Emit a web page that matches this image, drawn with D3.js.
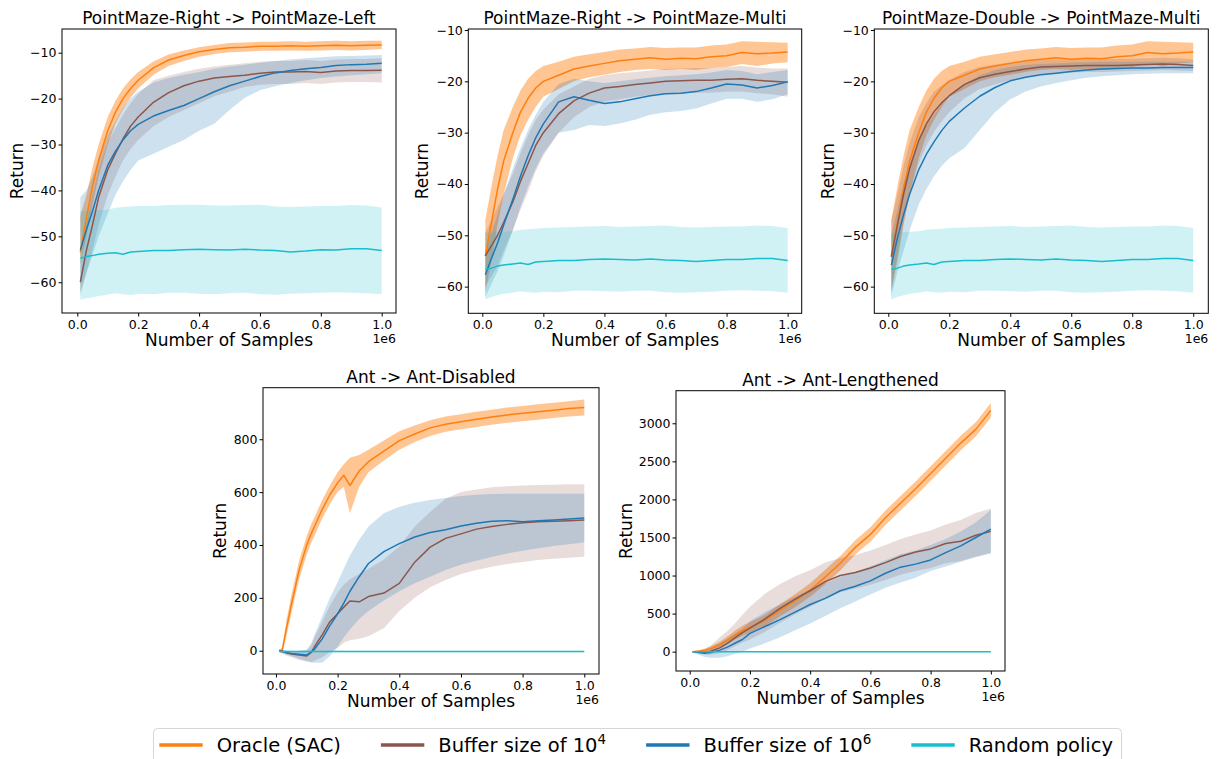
<!DOCTYPE html>
<html>
<head>
<meta charset="utf-8">
<script src="https://cdn.jsdelivr.net/npm/d3@7"></script>
<style>
  body { margin: 0; background: #fff; }
  text { font-family: "DejaVu Sans", sans-serif; fill: #000; }
</style>
</head>
<body>
<div id="chart"></div>
<script>
// sample positions (fraction of 1e6 samples)
const xSteps = [0.01, 0.03, 0.05, 0.07, 0.1, 0.125, 0.15, 0.175, 0.2, 0.25, 0.3, 0.35, 0.4, 0.45, 0.5, 0.55, 0.6, 0.65, 0.7, 0.75, 0.8, 0.85, 0.9, 0.95, 1.0];
const xStepsDisabled = [0.01, 0.02, 0.035, 0.05, 0.075, 0.1, 0.115, 0.125, 0.15, 0.175, 0.2, 0.22, 0.24, 0.27, 0.3, 0.35, 0.4, 0.45, 0.5, 0.55, 0.6, 0.65, 0.7, 0.75, 0.8, 0.85, 0.9, 0.95, 1.0];

const titles = ["PointMaze-Right -> PointMaze-Left", "PointMaze-Right -> PointMaze-Multi", "PointMaze-Double -> PointMaze-Multi", "Ant -> Ant-Disabled", "Ant -> Ant-Lengthened"];
const legendNames = ["Oracle (SAC)", "Buffer size of 10", "Buffer size of 10", "Random policy"];
const legendSups = ["", "4", "6", ""];
const colors = ["#ff7f0e", "#8c564b", "#1f77b4", "#17becf"];
const bandAlpha = [0.45, 0.2, 0.22, 0.2];

const xTicks = [0, 0.2, 0.4, 0.6, 0.8, 1.0];
const yTicksMaze = [-60, -50, -40, -30, -20, -10];
const yTicksDisabled = [0, 200, 400, 600, 800];
const yTicksLengthened = [0, 500, 1000, 1500, 2000, 2500, 3000];

// PointMaze-Right -> PointMaze-Left
const rlOracle = [-53.5, -46, -39, -33.5, -27, -23, -20, -17.8, -16, -13.3, -11.6, -10.6, -9.8, -9.3, -8.9, -8.8, -8.6, -8.6, -8.5, -8.6, -8.5, -8.4, -8.5, -8.4, -8.3];
const rlOracleLo = [-56, -50, -43, -37, -30, -25.5, -22.3, -19.8, -17.8, -14.8, -12.9, -11.8, -10.9, -10.3, -9.9, -9.8, -9.6, -9.6, -9.5, -9.6, -9.5, -9.4, -9.5, -9.4, -9.2];
const rlOracleHi = [-45.5, -41, -35, -30, -24, -20.5, -17.8, -15.8, -14.2, -11.9, -10.4, -9.5, -8.8, -8.3, -7.9, -7.8, -7.6, -7.6, -7.5, -7.6, -7.5, -7.4, -7.5, -7.4, -7.4];
const rlBuf4 = [-60, -53, -47.5, -41.5, -35.5, -32, -28.8, -26, -24, -20.8, -18.7, -17.2, -16.2, -15.5, -15.2, -14.9, -14.5, -14.2, -14.2, -14.1, -14.3, -14, -13.9, -13.9, -13.8];
const rlBuf4Lo = [-63, -58, -53, -47.5, -41, -37, -33.5, -31, -29, -26, -24, -22.5, -21, -19.5, -18.5, -17.5, -17, -16.8, -16.8, -16.6, -16.8, -16.5, -16.4, -16.4, -16.5];
const rlBuf4Hi = [-56, -47, -41, -35.5, -29.5, -26.5, -23.5, -21, -19, -16, -15, -14.2, -13.5, -13, -12.6, -12.3, -12, -11.8, -11.8, -11.6, -11.8, -11.5, -11.4, -11.4, -11.2];
const rlBuf6 = [-53, -48.5, -44.5, -40, -34.5, -31.5, -29, -27, -25.6, -23.8, -22.6, -21.5, -20, -18.5, -17.2, -16.2, -15.2, -14.4, -13.9, -13.5, -13.2, -12.8, -12.6, -12.5, -12.3];
const rlBuf6Lo = [-62, -58, -54, -50, -45, -41, -38, -35.5, -33.5, -32, -30.5, -29, -27, -25.5, -22.5, -19.8, -18.2, -17.3, -16.6, -16, -15.5, -15.2, -14.9, -14.7, -14.5];
const rlBuf6Hi = [-41.5, -40, -37, -33, -28, -25, -22, -20, -18.5, -16.5, -15.5, -14.8, -14.2, -13.5, -13, -12.6, -12.2, -11.8, -11.5, -11.2, -11, -10.8, -10.7, -10.6, -10.5];
const rlRandom = [-54.8, -54.4, -54.2, -53.9, -53.7, -53.6, -53.9, -53.4, -53.3, -53.1, -53.1, -52.9, -52.8, -52.9, -53, -52.8, -53, -53.1, -53.4, -53.2, -52.9, -53, -52.7, -52.7, -53.1];
const rlRandomLo = [-63.8, -63.5, -63.3, -63, -62.7, -62.4, -62.6, -62.8, -62.5, -62.6, -62.3, -62.3, -62.5, -62.6, -62.4, -62.3, -62.6, -62.7, -62.5, -62.4, -62.3, -62.2, -62.3, -62.4, -62.6];
const rlRandomHi = [-44.5, -44.4, -44.4, -44.3, -44.2, -43.8, -43.6, -43.5, -43.4, -43.4, -43.2, -43.1, -43.1, -43.3, -43.3, -43.2, -43.1, -43.5, -43.6, -43.5, -43.4, -43.4, -43.2, -43.3, -43.7];

// PointMaze-Right -> PointMaze-Multi (oracle and random shared with Double -> Multi)
const multiOracle = [-54, -47.5, -41, -35.5, -30, -26, -23.3, -21.3, -20, -18.8, -17.6, -17, -16.5, -16, -15.7, -15.4, -15.7, -15.5, -15.6, -15.2, -15, -14.4, -14.6, -14.5, -14.3];
const multiOracleLo = [-61, -55, -48, -42, -35, -30.5, -27.5, -25, -23, -21.5, -20, -19.2, -18.7, -18.2, -17.8, -17.6, -17.8, -17.6, -17.8, -17.4, -17.2, -16.6, -17, -16.5, -16.3];
const multiOracleHi = [-47, -40.5, -34.5, -29.5, -25, -21.8, -19.5, -18, -17, -16.2, -15.2, -14.7, -14.3, -13.8, -13.6, -13.3, -13.5, -13.4, -13.4, -13, -12.8, -12.2, -12.3, -12.4, -12.5];
const multiRandom = [-56.6, -56.4, -56, -55.8, -55.6, -55.4, -55.7, -55.2, -55.1, -54.9, -54.9, -54.7, -54.6, -54.7, -54.8, -54.6, -54.8, -54.9, -55.1, -54.9, -54.7, -54.7, -54.5, -54.5, -54.9];
const multiRandomLo = [-62.5, -62, -61.7, -61.4, -61.2, -60.9, -61.1, -61.2, -61, -61.1, -60.8, -60.8, -60.9, -61, -60.8, -60.8, -61.1, -61.2, -61.1, -61, -60.8, -60.7, -60.8, -60.9, -61.2];
const multiRandomHi = [-49.5, -49.4, -49.4, -49.3, -49.2, -48.9, -48.8, -48.7, -48.6, -48.5, -48.4, -48.3, -48.2, -48.4, -48.3, -48.2, -48.1, -48.4, -48.5, -48.4, -48.3, -48.3, -48.1, -48.2, -48.6];
const rmBuf4 = [-54, -52, -50, -47.5, -43.5, -39.5, -36, -32.5, -30, -26.3, -23.8, -22.3, -21.3, -21, -20.6, -20.3, -20, -19.9, -19.8, -19.8, -19.6, -19.5, -19.8, -20, -20.2];
const rmBuf4Lo = [-60, -58, -56, -53, -49, -45, -41.5, -37.5, -34.5, -30, -27, -25, -24, -23.5, -23, -22.7, -22.4, -22.3, -22.2, -22.2, -22, -22, -22.3, -22.5, -23];
const rmBuf4Hi = [-49.5, -47, -44.5, -42, -38, -34, -30.5, -27.5, -25.5, -22.5, -21, -19.5, -18.8, -18.4, -18.2, -17.9, -17.6, -17.5, -17.4, -17.4, -17.2, -17, -17.3, -17.5, -17.5];
const rmBuf6 = [-57.7, -54.5, -51.5, -48, -43, -38.5, -34.5, -31, -28.3, -24, -23, -23.7, -24.3, -24, -23.4, -22.8, -22.4, -22.3, -22, -21.3, -20.5, -20.7, -21.3, -20.8, -20.1];
const rmBuf6Lo = [-62, -59.5, -57, -54, -49, -44.5, -40.5, -37, -34, -30, -29.5, -28.5, -28.7, -28.2, -27.5, -26.5, -26, -25.8, -25.3, -24.3, -23.4, -23.4, -24, -23.5, -22.5];
const rmBuf6Hi = [-53, -49.5, -46, -42, -37, -33, -29.5, -26.5, -24, -20.5, -19.5, -20, -20.3, -20, -19.6, -19.3, -19, -18.8, -18.6, -18.3, -17.8, -18, -18.6, -18.2, -17.8];

// PointMaze-Double -> PointMaze-Multi
const dmBuf4 = [-54.2, -48, -42, -37, -31.5, -28.3, -25.9, -24.2, -22.8, -20.6, -19.3, -18.6, -18.1, -17.6, -17.2, -17.1, -17, -16.9, -16.9, -16.9, -16.8, -16.7, -16.6, -16.7, -16.9];
const dmBuf4Lo = [-60.5, -54, -47.5, -42, -36, -32.5, -29.8, -27.8, -26, -23.3, -21.5, -20.6, -19.8, -19.2, -18.7, -18.5, -18.3, -18.2, -18.2, -18.1, -18, -17.9, -17.8, -17.9, -18];
const dmBuf4Hi = [-47, -42, -36.5, -32, -27, -24.2, -22, -20.8, -19.7, -18.2, -17.2, -16.7, -16.3, -16, -15.7, -15.7, -15.7, -15.6, -15.6, -15.6, -15.6, -15.5, -15.4, -15.5, -15.7];
const dmBuf6 = [-55.8, -50.5, -46, -42, -37.2, -34.2, -31.8, -29.6, -27.8, -25.2, -22.9, -21.2, -19.9, -19.2, -18.7, -18.4, -18.1, -17.8, -17.6, -17.5, -17.4, -17.4, -17.3, -17.3, -17.3];
const dmBuf6Lo = [-62, -57, -53, -49, -44, -41, -38.5, -36.5, -35, -33, -29.5, -26, -23.5, -22, -21, -20.3, -19.8, -19.3, -19, -18.8, -18.6, -18.5, -18.4, -18.4, -18.4];
const dmBuf6Hi = [-50, -45, -40, -36, -31.5, -28.7, -26.5, -24.6, -23, -20.5, -18.8, -17.8, -17.2, -16.8, -16.6, -16.5, -16.4, -16.3, -16.2, -16.2, -16.2, -16.2, -16.2, -16.2, -16.2];

// Ant -> Ant-Disabled (on xStepsDisabled)
const adOracle = [0, 0, 90, 175, 305, 400, 445, 470, 535, 590, 635, 664, 625, 680, 715, 755, 795, 820, 843, 857, 866, 876, 884, 892, 898, 904, 910, 916, 920];
const adOracleLo = [-5, -10, 60, 140, 270, 365, 410, 435, 500, 555, 600, 620, 520, 620, 675, 720, 760, 790, 812, 828, 838, 846, 855, 862, 868, 874, 880, 886, 890];
const adOracleHi = [5, 10, 120, 210, 340, 435, 480, 505, 570, 625, 675, 705, 730, 740, 760, 795, 830, 852, 872, 886, 895, 904, 912, 920, 926, 932, 938, 944, 950];
const adBuf4 = [0, -2, -8, -12, -16, -20, -5, 15, 60, 110, 140, 165, 188, 185, 205, 218, 255, 335, 392, 425, 442, 460, 470, 478, 484, 488, 490, 492, 495];
const adBuf4Lo = [-5, -10, -18, -25, -35, -40, -42, -38, -25, -5, 10, 30, 40, 45, 55, 85, 150, 200, 240, 268, 290, 305, 318, 328, 336, 343, 348, 352, 356];
const adBuf4Hi = [5, 4, 0, -2, -5, 0, 20, 50, 110, 170, 220, 250, 270, 290, 310, 345, 395, 470, 525, 575, 600, 610, 618, 622, 625, 627, 628, 630, 630];
const adBuf6 = [0, -2, -8, -10, -13, -16, -5, 5, 45, 95, 140, 180, 225, 280, 330, 375, 405, 430, 447, 458, 472, 482, 490, 492, 488, 492, 495, 498, 502];
const adBuf6Lo = [-5, -8, -15, -20, -30, -40, -45, -45, -45, -20, 15, 50, 80, 120, 150, 190, 225, 255, 280, 305, 325, 340, 355, 368, 378, 388, 396, 403, 410];
const adBuf6Hi = [5, 4, 0, -2, 0, 5, 30, 60, 130, 200, 260, 310, 360, 420, 470, 520, 545, 560, 570, 578, 585, 590, 593, 594, 594, 594, 594, 594, 594];
const adRandom = [-2, -3, -3, -3, -3, -3, -3, -3, -3, -3, -3, -3, -3, -3, -3, -3, -3, -3, -3, -3, -3, -3, -3, -3, -3, -3, -3, -3, -3];
const adRandomLo = [-5, -6, -6, -6, -6, -6, -6, -6, -6, -6, -6, -6, -6, -6, -6, -6, -6, -6, -6, -6, -6, -6, -6, -6, -6, -6, -6, -6, -6];
const adRandomHi = [1, 0, 0, 0, 0, 0, 0, 0, 0, 0, 0, 0, 0, 0, 0, 0, 0, 0, 0, 0, 0, 0, 0, 0, 0, 0, 0, 0, 0];

// Ant -> Ant-Lengthened
const alOracle = [0, 5, 20, 40, 90, 150, 215, 275, 320, 410, 545, 670, 810, 980, 1160, 1370, 1540, 1760, 1950, 2140, 2340, 2540, 2740, 2920, 3170];
const alOracleLo = [-10, -10, 0, 10, 50, 100, 155, 210, 250, 335, 465, 585, 720, 885, 1065, 1275, 1445, 1665, 1855, 2045, 2245, 2445, 2645, 2825, 3075];
const alOracleHi = [10, 20, 40, 70, 130, 200, 275, 340, 390, 485, 625, 755, 900, 1075, 1255, 1465, 1635, 1855, 2045, 2235, 2435, 2635, 2835, 3015, 3265];
const alBuf4 = [0, -5, -10, 5, 50, 110, 180, 250, 310, 430, 570, 690, 800, 920, 1000, 1040, 1100, 1170, 1250, 1310, 1350, 1420, 1450, 1530, 1580];
const alBuf4Lo = [-10, -25, -40, -40, -20, 20, 70, 120, 160, 260, 380, 490, 590, 690, 780, 830, 880, 940, 1010, 1060, 1100, 1160, 1190, 1250, 1300];
const alBuf4Hi = [10, 15, 30, 80, 190, 270, 370, 480, 590, 760, 890, 990, 1070, 1170, 1230, 1270, 1330, 1400, 1480, 1540, 1590, 1670, 1730, 1820, 1880];
const alBuf6 = [0, -10, -20, -10, 20, 60, 110, 160, 240, 330, 420, 520, 620, 700, 800, 860, 930, 1030, 1110, 1150, 1205, 1300, 1390, 1500, 1610];
const alBuf6Lo = [-10, -40, -70, -80, -80, -60, -30, 0, 40, 110, 190, 280, 370, 470, 570, 660, 750, 840, 910, 970, 1060, 1120, 1180, 1240, 1290];
const alBuf6Hi = [10, 10, 20, 50, 110, 170, 240, 300, 400, 520, 620, 720, 820, 900, 980, 1050, 1120, 1200, 1280, 1330, 1400, 1480, 1580, 1700, 1860];
const alRandom = [0, 0, 0, 0, 0, 0, 0, 0, 0, 0, 0, 0, 0, 0, 0, 0, 0, 0, 0, 0, 0, 0, 0, 0, 0];
const alRandomLo = [-6, -6, -6, -6, -6, -6, -6, -6, -6, -6, -6, -6, -6, -6, -6, -6, -6, -6, -6, -6, -6, -6, -6, -6, -6];
const alRandomHi = [6, 6, 6, 6, 6, 6, 6, 6, 6, 6, 6, 6, 6, 6, 6, 6, 6, 6, 6, 6, 6, 6, 6, 6, 6];

const svg = d3.select("#chart")
    .append("svg")
    .attr("width", 1222)
    .attr("height", 759)
    .style("background", "#fff");

// panel layout: box = [left, top, right, bottom], labelX = x of the rotated "Return"
const panels = [
    {title: titles[0], box: [62, 29, 396, 313], xDomain: [-0.0503, 1.047], yDomain: [-66.7, -4.84], yTicks: yTicksMaze, labelX: 17, x: xSteps,
     series: [[rlOracle, rlOracleLo, rlOracleHi], [rlBuf4, rlBuf4Lo, rlBuf4Hi], [rlBuf6, rlBuf6Lo, rlBuf6Hi], [rlRandom, rlRandomLo, rlRandomHi]]},
    {title: titles[1], box: [468.3, 29, 801.7, 313.3], xDomain: [-0.0458, 1.046], yDomain: [-65.2, -9.8], yTicks: yTicksMaze, labelX: 422.5, x: xSteps,
     series: [[multiOracle, multiOracleLo, multiOracleHi], [rmBuf4, rmBuf4Lo, rmBuf4Hi], [rmBuf6, rmBuf6Lo, rmBuf6Hi], [multiRandom, multiRandomLo, multiRandomHi]]},
    {title: titles[2], box: [874.3, 29, 1208.3, 313.3], xDomain: [-0.0459, 1.0495], yDomain: [-65.2, -9.8], yTicks: yTicksMaze, labelX: 828, x: xSteps,
     series: [[multiOracle, multiOracleLo, multiOracleHi], [dmBuf4, dmBuf4Lo, dmBuf4Hi], [dmBuf6, dmBuf6Lo, dmBuf6Hi], [multiRandom, multiRandomLo, multiRandomHi]]},
    {title: titles[3], box: [263, 387.7, 599, 674], xDomain: [-0.042, 1.0477], yDomain: [-88, 995], yTicks: yTicksDisabled, labelX: 220, x: xStepsDisabled,
     series: [[adOracle, adOracleLo, adOracleHi], [adBuf4, adBuf4Lo, adBuf4Hi], [adBuf6, adBuf6Lo, adBuf6Hi], [adRandom, adRandomLo, adRandomHi]]},
    {title: titles[4], box: [676, 390.7, 1005, 671], xDomain: [-0.0455, 1.047], yDomain: [-254, 3428], yTicks: yTicksLengthened, labelX: 625.7, x: xSteps,
     series: [[alOracle, alOracleLo, alOracleHi], [alBuf4, alBuf4Lo, alBuf4Hi], [alBuf6, alBuf6Lo, alBuf6Hi], [alRandom, alRandomLo, alRandomHi]]}
];

panels.forEach((p, pi) => drawPanel(p, pi));

function drawPanel(p, pi) {
    const [l, t, r, b] = p.box;
    const xScale = d3.scaleLinear().domain(p.xDomain).range([l, r]);
    const yScale = d3.scaleLinear().domain(p.yDomain).range([b, t]);
    const g = svg.append("g");

    g.append("clipPath")
        .attr("id", "clip" + pi)
        .append("rect")
        .attr("x", l).attr("y", t)
        .attr("width", r - l).attr("height", b - t);

    const plot = g.append("g").attr("clip-path", `url(#clip${pi})`);

    const rowsList = p.series.map(s => p.x.map((xv, j) => ({x: xv, m: s[0][j], lo: s[1][j], hi: s[2][j]})));

    const band = d3.area()
        .x(d => xScale(d.x))
        .y0(d => yScale(d.lo))
        .y1(d => yScale(d.hi));
    const meanLine = d3.line()
        .x(d => xScale(d.x))
        .y(d => yScale(d.m));

    // bands first, then mean lines
    rowsList.forEach((rows, i) => {
        plot.append("path")
            .datum(rows)
            .attr("fill", colors[i])
            .attr("fill-opacity", bandAlpha[i])
            .attr("d", band);
    });
    rowsList.forEach((rows, i) => {
        plot.append("path")
            .datum(rows)
            .attr("fill", "none")
            .attr("stroke", colors[i])
            .attr("stroke-width", 1.5)
            .attr("stroke-linejoin", "round")
            .attr("d", meanLine);
    });

    // x axis
    const xAxis = g.append("g")
        .attr("transform", `translate(0, ${b})`)
        .call(d3.axisBottom(xScale)
            .tickValues(xTicks)
            .tickFormat(d3.format(".1f"))
            .tickSize(3.5)
            .tickPadding(3.5));
    // y axis
    const yAxis = g.append("g")
        .attr("transform", `translate(${l}, 0)`)
        .call(d3.axisLeft(yScale)
            .tickValues(p.yTicks)
            .tickFormat(d3.format("d"))
            .tickSize(3.5)
            .tickPadding(2));

    [xAxis, yAxis].forEach(ax => {
        ax.attr("font-family", "DejaVu Sans, sans-serif").attr("font-size", 12.5);
        ax.select(".domain").remove();
        ax.selectAll(".tick line").attr("stroke", "#000").attr("stroke-width", 1);
        ax.selectAll(".tick text").attr("fill", "#000");
    });

    // frame
    g.append("rect")
        .attr("x", l).attr("y", t)
        .attr("width", r - l).attr("height", b - t)
        .attr("fill", "none")
        .attr("stroke", "#000")
        .attr("stroke-width", 1);

    // title
    g.append("text")
        .attr("x", (l + r) / 2)
        .attr("y", t - 5)
        .attr("text-anchor", "middle")
        .style("font-size", "17px")
        .text(p.title);

    // x label
    g.append("text")
        .attr("x", (l + r) / 2)
        .attr("y", b + 32.7)
        .attr("text-anchor", "middle")
        .style("font-size", "17px")
        .text("Number of Samples");

    // offset text
    g.append("text")
        .attr("x", r)
        .attr("y", b + 30)
        .attr("text-anchor", "end")
        .style("font-size", "12.5px")
        .text("1e6");

    // y label
    g.append("text")
        .attr("transform", `translate(${p.labelX}, ${(t + b) / 2}) rotate(-90)`)
        .attr("text-anchor", "middle")
        .attr("dy", "0.35em")
        .style("font-size", "17px")
        .text("Return");
}

// Legend
const legend = svg.append("g");
const legendBox = legend.append("rect")
    .attr("x", 153.5)
    .attr("y", 728.5)
    .attr("height", 50)
    .attr("rx", 4)
    .attr("fill", "#fff")
    .attr("stroke", "#d6d6d6")
    .attr("stroke-width", 1);

let cursor = 159.3;
legendNames.forEach((name, i) => {
    legend.append("line")
        .attr("x1", cursor).attr("x2", cursor + 43.4)
        .attr("y1", 745).attr("y2", 745)
        .attr("stroke", colors[i])
        .attr("stroke-width", 3.5);
    const label = legend.append("text")
        .attr("x", cursor + 57.4)
        .attr("y", 751.5)
        .style("font-size", "19.5px")
        .text(name);
    if (legendSups[i]) {
        label.append("tspan")
            .attr("dy", -8)
            .style("font-size", "13.5px")
            .text(legendSups[i]);
    }
    const w = label.node().getComputedTextLength();
    cursor += 57.4 + w + (i < legendNames.length - 1 ? 40 : 8.5);
});
legendBox.attr("width", cursor - 153.5);
</script>
</body>
</html>
